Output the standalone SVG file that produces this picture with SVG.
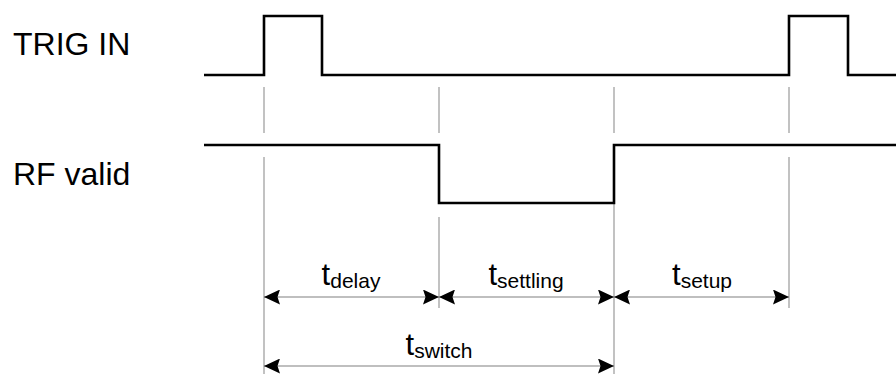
<svg xmlns="http://www.w3.org/2000/svg" width="896" height="374" viewBox="0 0 896 374">
  <style>
    .sig { fill: none; stroke: #000; stroke-width: 2.6; stroke-linejoin: miter; }
    .guide { fill: none; stroke: #999; stroke-width: 1.2; }
    .dim { fill: none; stroke: #808080; stroke-width: 1.2; }
    .lbl { font-family: "Liberation Sans", Arial, sans-serif; font-size: 32px; fill: #000; }
    .t { font-family: "Liberation Sans", Arial, sans-serif; font-size: 31px; fill: #000; }
    .sub { font-size: 21px; }
  </style>
  <defs>
    <marker id="ah" markerUnits="userSpaceOnUse" markerWidth="16" markerHeight="15" refX="16" refY="7.5" orient="auto-start-reverse" viewBox="0 0 16 15">
      <path d="M0,0 L16,7.5 L0,15 L2.5,7.5 z" fill="#000"/>
    </marker>
  </defs>
  <rect width="896" height="374" fill="#fff"/>

  <g id="label-trig">
    <text class="lbl" x="13" y="55">TRIG IN</text>
  </g>
  <g id="label-rf">
    <text class="lbl" x="13" y="185">RF valid</text>
  </g>

  <g id="guides">
    <line class="guide" x1="264" y1="87" x2="264" y2="133"/>
    <line class="guide" x1="264" y1="157" x2="264" y2="374"/>
    <line class="guide" x1="439" y1="87" x2="439" y2="133"/>
    <line class="guide" x1="439" y1="217" x2="439" y2="308"/>
    <line class="guide" x1="614" y1="87" x2="614" y2="133"/>
    <line class="guide" x1="614" y1="157" x2="614" y2="374"/>
    <line class="guide" x1="789" y1="87" x2="789" y2="133"/>
    <line class="guide" x1="789" y1="157" x2="789" y2="308"/>
  </g>

  <g id="trig-signal">
    <polyline class="sig" points="204,75 264,75 264,16 322,16 322,75 789,75 789,16 848,16 848,75 896,75"/>
  </g>
  <g id="rf-signal">
    <polyline class="sig" points="204,145 439,145 439,203 614,203 614,145 896,145"/>
  </g>

  <g id="connectors">
    <line class="dim" x1="264" y1="297" x2="439" y2="297" marker-start="url(#ah)" marker-end="url(#ah)"/>
    <line class="dim" x1="439" y1="297" x2="614" y2="297" marker-start="url(#ah)" marker-end="url(#ah)"/>
    <line class="dim" x1="614" y1="297" x2="789" y2="297" marker-start="url(#ah)" marker-end="url(#ah)"/>
    <line class="dim" x1="264" y1="366" x2="614" y2="366" marker-start="url(#ah)" marker-end="url(#ah)"/>
  </g>

  <g id="t-delay">
    <text class="t" x="351" y="285" text-anchor="middle">t<tspan class="sub" dy="3">delay</tspan></text>
  </g>
  <g id="t-settling">
    <text class="t" x="526" y="285" text-anchor="middle">t<tspan class="sub" dy="3">settling</tspan></text>
  </g>
  <g id="t-setup">
    <text class="t" x="702" y="285" text-anchor="middle">t<tspan class="sub" dy="3">setup</tspan></text>
  </g>
  <g id="t-switch">
    <text class="t" x="439" y="355" text-anchor="middle">t<tspan class="sub" dy="3">switch</tspan></text>
  </g>
</svg>
